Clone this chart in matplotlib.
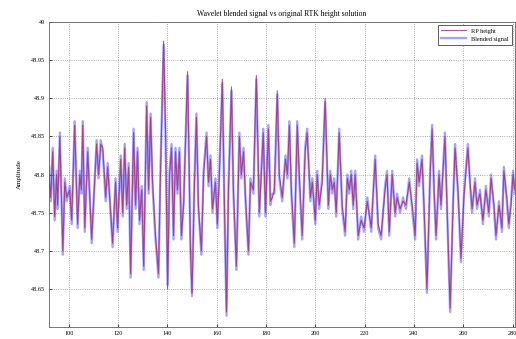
import matplotlib.pyplot as plt
import matplotlib

matplotlib.rcParams["font.family"] = "Liberation Serif"

# sample positions (epoch) of the turning points
t = [92.0, 92.7, 93.5, 94.3, 95.1, 95.5, 96.4, 97.6, 98.4, 99.2,
     100.4, 101.2, 102.4, 103.6, 104.5, 105.1, 105.7, 106.5, 107.7, 109.3,
     111.3, 112.1, 113.0, 113.8, 115.0, 115.8, 117.8, 119.0, 119.8, 121.1,
     121.9, 122.7, 123.5, 124.3, 125.1, 126.3, 127.1, 127.9, 128.7, 129.6,
     130.4, 131.6, 132.4, 133.2, 134.0, 135.2, 136.4, 137.2, 138.5, 139.3,
     140.1, 140.9, 141.7, 142.5, 143.3, 144.1, 144.9, 145.7, 146.6, 148.2,
     149.4, 150.0, 151.0, 151.8, 152.6, 153.8, 154.7, 155.9, 156.7, 157.5,
     158.3, 159.5, 160.3, 161.1, 162.3, 163.2, 164.0, 164.8, 166.0, 166.8,
     168.0, 169.2, 170.0, 170.9, 171.7, 172.9, 173.7, 174.9, 176.1, 177.3,
     178.1, 178.9, 179.8, 181.0, 181.8, 182.6, 183.4, 184.6, 185.4, 186.6,
     187.9, 188.7, 189.5, 190.3, 191.5, 192.7, 193.5, 194.7, 195.9, 196.7,
     198.0, 198.8, 200.0, 200.8, 201.6, 202.8, 204.0, 205.3, 206.1, 206.9,
     207.7, 208.5, 209.7, 210.9, 212.1, 213.0, 213.8, 214.6, 215.4, 216.2,
     217.4, 218.6, 219.8, 221.1, 222.7, 224.3, 225.5, 226.7, 228.3, 229.1,
     230.0, 231.2, 232.4, 233.2, 234.4, 235.6, 236.8, 238.1, 239.3, 240.5,
     241.3, 242.1, 243.3, 244.1, 245.3, 246.6, 247.4, 248.2, 249.0, 250.2,
     251.0, 252.6, 253.8, 254.7, 255.9, 256.7, 257.9, 259.1, 260.3, 261.9,
     262.8, 263.6, 264.8, 265.6, 266.8, 268.0, 269.2, 270.4, 271.3, 272.5,
     273.3, 274.5, 275.7, 276.5, 277.7, 278.5, 279.4, 280.2, 281.0]

rp_height = [48.80, 48.77, 48.83, 48.745, 48.80, 48.76, 48.85, 48.70, 48.79, 48.77,
             48.78, 48.74, 48.865, 48.735, 48.80, 48.78, 48.865, 48.73, 48.83, 48.715,
             48.84, 48.80, 48.84, 48.835, 48.77, 48.81, 48.71, 48.79, 48.73, 48.82,
             48.75, 48.835, 48.76, 48.81, 48.67, 48.855, 48.76, 48.83, 48.74, 48.78,
             48.68, 48.89, 48.78, 48.875, 48.79, 48.72, 48.67, 48.80, 48.975, 48.85,
             48.65, 48.80, 48.835, 48.72, 48.83, 48.78, 48.83, 48.72, 48.76, 48.935,
             48.70, 48.64, 48.79, 48.875, 48.76, 48.70, 48.80, 48.85, 48.79, 48.82,
             48.755, 48.79, 48.735, 48.80, 48.925, 48.75, 48.62, 48.78, 48.915, 48.78,
             48.68, 48.85, 48.80, 48.83, 48.77, 48.70, 48.79, 48.78, 48.93, 48.75,
             48.80, 48.855, 48.75, 48.86, 48.765, 48.77, 48.78, 48.91, 48.80, 48.77,
             48.82, 48.80, 48.865, 48.78, 48.71, 48.865, 48.80, 48.72, 48.83, 48.855,
             48.77, 48.79, 48.74, 48.80, 48.76, 48.79, 48.90, 48.76, 48.80, 48.78,
             48.79, 48.75, 48.855, 48.76, 48.725, 48.795, 48.78, 48.80, 48.76, 48.80,
             48.72, 48.74, 48.73, 48.765, 48.73, 48.82, 48.735, 48.72, 48.78, 48.80,
             48.725, 48.80, 48.75, 48.77, 48.755, 48.765, 48.76, 48.79, 48.76, 48.72,
             48.815, 48.79, 48.82, 48.76, 48.65, 48.80, 48.86, 48.78, 48.72, 48.80,
             48.76, 48.85, 48.72, 48.625, 48.76, 48.835, 48.78, 48.69, 48.77, 48.835,
             48.79, 48.755, 48.79, 48.76, 48.775, 48.74, 48.78, 48.75, 48.795, 48.76,
             48.72, 48.76, 48.73, 48.805, 48.77, 48.735, 48.76, 48.80, 48.78]

blended = [48.81, 48.765, 48.835, 48.74, 48.805, 48.755, 48.855, 48.695, 48.795, 48.765,
           48.785, 48.735, 48.87, 48.73, 48.805, 48.775, 48.87, 48.725, 48.835, 48.71,
           48.845, 48.795, 48.845, 48.83, 48.765, 48.815, 48.705, 48.795, 48.725, 48.825,
           48.745, 48.84, 48.755, 48.815, 48.665, 48.86, 48.755, 48.835, 48.735, 48.785,
           48.675, 48.895, 48.775, 48.88, 48.785, 48.715, 48.665, 48.805, 48.97, 48.845,
           48.655, 48.805, 48.84, 48.715, 48.835, 48.775, 48.835, 48.715, 48.765, 48.93,
           48.695, 48.645, 48.795, 48.88, 48.755, 48.695, 48.805, 48.855, 48.785, 48.825,
           48.75, 48.795, 48.73, 48.805, 48.92, 48.745, 48.615, 48.785, 48.91, 48.775,
           48.675, 48.855, 48.795, 48.835, 48.765, 48.695, 48.795, 48.775, 48.925, 48.745,
           48.805, 48.86, 48.745, 48.865, 48.76, 48.775, 48.775, 48.905, 48.795, 48.765,
           48.825, 48.795, 48.87, 48.775, 48.705, 48.87, 48.795, 48.715, 48.835, 48.86,
           48.765, 48.795, 48.735, 48.805, 48.755, 48.795, 48.895, 48.755, 48.805, 48.775,
           48.795, 48.745, 48.86, 48.755, 48.72, 48.80, 48.775, 48.805, 48.755, 48.805,
           48.715, 48.745, 48.725, 48.77, 48.725, 48.825, 48.73, 48.715, 48.785, 48.805,
           48.72, 48.805, 48.745, 48.775, 48.75, 48.77, 48.755, 48.795, 48.755, 48.715,
           48.82, 48.785, 48.825, 48.755, 48.645, 48.805, 48.865, 48.775, 48.715, 48.805,
           48.755, 48.855, 48.715, 48.62, 48.765, 48.84, 48.775, 48.685, 48.775, 48.84,
           48.785, 48.75, 48.795, 48.755, 48.78, 48.735, 48.785, 48.745, 48.80, 48.755,
           48.715, 48.765, 48.725, 48.81, 48.765, 48.73, 48.765, 48.805, 48.775]

x_ticks = [100, 120, 140, 160, 180, 200, 220, 240, 260, 280]
y_ticks = [48.65, 48.7, 48.75, 48.8, 48.85, 48.9, 48.95, 49.0]
y_tick_labels = ["48.65", "48.7", "48.75", "48.8", "48.85", "48.9", "48.95", "49"]

fig = plt.figure(figsize=(5.16, 3.39), dpi=100)
ax = fig.add_axes([0.095, 0.035, 0.903, 0.9])

ax.plot(t, blended, color="#4a4aff", linewidth=1.7, alpha=0.5, label="Blended signal")
ax.plot(t, rp_height, color="#a0206a", linewidth=0.8, alpha=0.75, label="RP height")

ax.set_xlim(92, 281)
ax.set_ylim(48.6, 49.0)
ax.set_xticks(x_ticks)
ax.set_yticks(y_ticks)
ax.set_yticklabels(y_tick_labels)
ax.tick_params(labelsize=4.5, length=2, width=0.5, direction="in", pad=3)
ax.grid(True, linestyle=":", color="#909090", linewidth=0.6)
for s in ax.spines.values():
    s.set_linewidth(0.6)
    s.set_color("#606060")

ax.set_title("Wavelet blended signal vs original RTK height solution", fontsize=5.5, pad=4)
ax.set_ylabel("Amplitude", fontsize=5, labelpad=6)

h, l = ax.get_legend_handles_labels()
leg = ax.legend(h[::-1], l[::-1], loc="upper right", fontsize=4.5, fancybox=False,
                edgecolor="#404040", framealpha=1, handlelength=4, borderpad=0.5,
                labelspacing=0.4)
leg.get_frame().set_linewidth(0.6)

fig.savefig("out.png", dpi=100)
